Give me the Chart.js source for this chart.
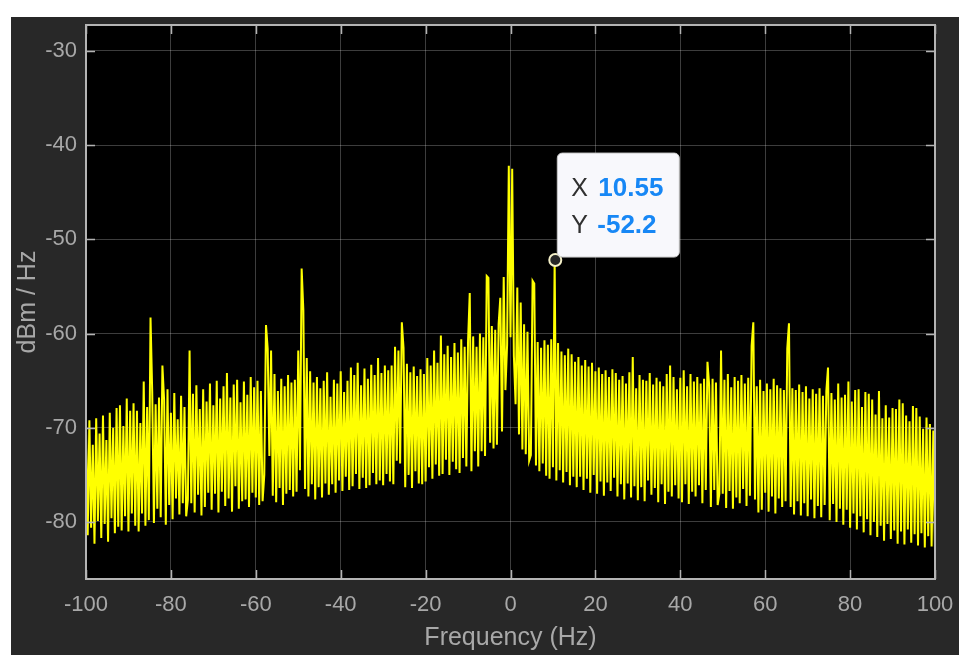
<!DOCTYPE html>
<html>
<head>
<meta charset="utf-8">
<title>Spectrum</title>
<script src="https://cdn.jsdelivr.net/npm/chart.js@4.4.1/dist/chart.umd.min.js"></script>
<style>
  html, body { margin: 0; padding: 0; background: #ffffff; overflow: hidden; }
  #wrap { position: relative; width: 959px; height: 655px; }
  #spectrum { display: block; }
</style>
</head>
<body>
<div id="wrap"><canvas id="spectrum" width="959" height="655"></canvas></div>
<script>
// spectrum bins: -100 Hz .. 100 Hz, 0.4 Hz apart
const freqStart = -100;
const freqStep = 0.4;

// power density (dBm/Hz), one row = 4 Hz
const power = [
  -70.1, -81.4, -69.2, -80.6, -71.8, -82.3, -69.0, -79.9, -70.6, -81.7,
  -68.7, -80.2, -71.3, -82.1, -68.4, -79.6, -70.0, -81.2, -67.9, -80.5,
  -67.6, -80.9, -69.8, -79.4, -66.9, -81.0, -68.2, -79.1, -67.4, -80.4,
  -68.2, -81.0, -69.5, -79.1, -65.1, -80.4, -67.8, -79.8, -58.3, -66.2,
  -80.1, -67.5, -78.6, -66.8, -79.5, -63.4, -67.0, -80.3, -65.9, -78.2,
  -68.4, -79.7, -66.3, -77.5, -69.1, -79.2, -66.6, -78.0, -67.8, -79.4,
  -77.6, -61.8, -78.0, -66.4, -79.0, -65.5, -77.1, -68.0, -79.3, -65.9,
  -78.4, -67.2, -76.9, -65.3, -78.7, -67.6, -77.0, -65.0, -79.0, -66.9,
  -76.8, -65.6, -78.3, -64.2, -77.5, -66.8, -78.9, -65.4, -76.2, -64.9,
  -78.6, -67.3, -77.8, -65.1, -77.6, -66.5, -78.4, -64.6, -76.9, -65.7,
  -77.4, -65.0, -78.2, -66.1, -77.8, -75.0, -59.1, -61.6, -73.0, -61.8,
  -77.2, -64.3, -77.9, -66.1, -76.4, -64.8, -78.2, -65.6, -77.0, -64.4,
  -76.6, -65.2, -77.3, -64.9, -76.8, -61.8, -74.5, -53.1, -57.5, -76.5,
  -62.6, -77.3, -64.0, -76.0, -65.2, -77.6, -64.6, -76.3, -65.8, -77.4,
  -65.0, -75.9, -64.1, -77.1, -66.7, -76.0, -64.9, -76.9, -65.3, -75.6,
  -64.0, -76.7, -66.2, -75.2, -65.0, -76.6, -63.6, -76.2, -64.4, -74.9,
  -63.1, -76.5, -65.5, -75.3, -63.7, -76.4, -64.8, -76.1, -63.3, -74.8,
  -64.4, -76.0, -62.6, -75.6, -64.2, -76.1, -63.4, -74.9, -63.9, -75.7,
  -63.4, -76.0, -61.4, -73.5, -61.8, -73.8, -58.8, -61.5, -76.3, -63.2,
  -75.0, -64.1, -76.4, -63.5, -74.6, -64.5, -75.9, -63.8, -76.0, -64.3,
  -75.7, -62.6, -74.2, -63.4, -75.4, -61.8, -73.9, -63.1, -75.1, -60.2,
  -74.9, -62.2, -73.4, -61.3, -75.0, -62.5, -73.6, -61.0, -74.4, -62.0,
  -74.8, -60.6, -73.2, -61.4, -74.1, -60.8, -55.7, -74.6, -60.3, -72.5,
  -61.4, -74.1, -60.0, -72.5, -60.4, -73.0, -53.9, -54.1, -71.6, -59.2,
  -72.2, -59.6, -71.8, -59.0, -56.2, -70.4, -54.0, -66.0, -61.2, -42.2,
  -60.4, -42.5, -62.4, -67.5, -55.1, -70.7, -56.7, -72.3, -59.0, -72.8,
  -59.8, -73.5, -72.9, -54.4, -54.7, -74.0, -60.9, -74.6, -61.5, -73.8,
  -60.7, -75.1, -61.2, -75.4, -60.6, -74.2, -52.2, -75.6, -61.0, -74.5,
  -61.9, -75.8, -62.3, -74.7, -61.6, -76.1, -62.2, -75.2, -63.0, -76.3,
  -62.5, -75.2, -63.4, -76.6, -62.8, -75.4, -63.5, -76.9, -63.1, -75.0,
  -64.0, -77.0, -63.6, -75.7, -64.3, -77.2, -63.9, -75.8, -64.6, -76.7,
  -63.8, -75.3, -64.2, -77.3, -64.9, -76.0, -64.5, -77.6, -65.3, -75.9,
  -64.1, -77.4, -62.5, -76.2, -65.8, -77.7, -64.4, -76.3, -64.9, -77.8,
  -65.0, -75.6, -64.2, -77.1, -65.4, -76.4, -64.7, -77.9, -65.1, -76.0,
  -65.6, -78.1, -64.3, -76.8, -63.4, -77.3, -64.6, -76.1, -65.9, -77.5,
  -64.7, -77.9, -63.9, -76.0, -65.6, -78.1, -64.3, -76.8, -65.1, -77.3,
  -64.6, -76.1, -65.3, -78.0, -64.8, -76.6, -63.0, -65.5, -78.4, -64.8,
  -76.6, -65.2, -78.2, -77.0, -61.8, -77.0, -64.9, -78.5, -64.3, -76.7,
  -65.7, -78.6, -64.6, -77.4, -65.0, -78.0, -64.4, -76.5, -65.3, -78.3,
  -64.7, -77.2, -61.3, -58.8, -77.6, -65.6, -79.0, -64.9, -78.7, -66.1,
  -76.9, -65.3, -78.9, -65.9, -77.3, -64.8, -79.1, -65.5, -77.5, -65.8,
  -78.4, -66.0, -77.8, -61.6, -58.9, -78.4, -65.8, -79.2, -66.0, -77.8,
  -65.4, -79.3, -66.2, -78.0, -65.6, -79.4, -66.9, -77.6, -65.9, -79.6,
  -66.4, -78.3, -65.8, -79.5, -66.6, -78.2, -66.1, -63.6, -79.8, -66.3,
  -78.1, -67.0, -80.0, -65.3, -78.6, -66.8, -80.3, -66.5, -78.7, -65.1,
  -80.6, -67.2, -79.1, -66.0, -80.8, -65.9, -79.4, -67.8, -81.1, -66.2,
  -79.7, -66.4, -81.4, -67.0, -80.0, -68.6, -81.6, -66.1, -80.4, -69.0,
  -82.0, -67.6, -80.2, -68.9, -81.8, -67.9, -80.9, -68.0, -82.3, -67.0,
  -81.0, -67.4, -82.4, -68.7, -80.8, -69.3, -82.2, -67.7, -81.3, -67.9,
  -82.5, -68.8, -81.2, -70.1, -82.7, -68.9, -81.5, -69.6, -82.6, -70.3,
  -82.8
];

// data tip shown on the plot
const tipX = 10.55;
const tipY = -52.2;

// axis ticks
const xTicks = [-100, -80, -60, -40, -20, 0, 20, 40, 60, 80, 100];
const yTicks = [-80, -70, -60, -50, -40, -30];

const freqs = power.map((_, i) => freqStart + i * freqStep);
const points = freqs.map((f, i) => ({ x: f, y: power[i] }));

const tickColor = '#a8a8a8';
const boxColor = '#b4b4b4';

// dark frame, black plot area
const backdrop = {
  id: 'backdrop',
  beforeDraw(chart) {
    const { ctx, chartArea: a } = chart;
    ctx.save();
    ctx.fillStyle = '#ffffff';
    ctx.fillRect(0, 0, chart.width, chart.height);
    ctx.fillStyle = '#282828';
    ctx.fillRect(11, 17, chart.width - 11, chart.height - 17);
    ctx.fillStyle = '#000000';
    ctx.fillRect(a.left, a.top, a.right - a.left, a.bottom - a.top);
    ctx.restore();
  }
};

// axes box with inward tick marks, and the data tip
const axesBox = {
  id: 'axesBox',
  afterDatasetsDraw(chart) {
    const { ctx, chartArea: a, scales } = chart;
    ctx.save();
    ctx.strokeStyle = boxColor;
    ctx.lineWidth = 1.5;
    ctx.beginPath();
    yTicks.forEach(v => {
      const y = Math.round(scales.y.getPixelForValue(v)) + 0.5;
      ctx.moveTo(a.left, y); ctx.lineTo(a.left + 9, y);
      ctx.moveTo(a.right, y); ctx.lineTo(a.right - 9, y);
    });
    xTicks.forEach(v => {
      const x = Math.round(scales.x.getPixelForValue(v)) + 0.5;
      ctx.moveTo(x, a.bottom); ctx.lineTo(x, a.bottom - 9);
      ctx.moveTo(x, a.top); ctx.lineTo(x, a.top + 9);
    });
    ctx.stroke();
    ctx.lineWidth = 2;
    ctx.strokeRect(a.left, a.top, a.right - a.left, a.bottom - a.top);

    // data tip box
    const px = scales.x.getPixelForValue(tipX);
    const py = scales.y.getPixelForValue(tipY);
    const bx = px + 2, by = py - 107, bw = 122, bh = 104;
    ctx.beginPath();
    ctx.roundRect(bx, by, bw, bh, 5);
    ctx.fillStyle = '#f8f8fc';
    ctx.fill();
    ctx.lineWidth = 1;
    ctx.strokeStyle = '#c8c8c8';
    ctx.stroke();
    ctx.font = '25px "Liberation Sans", Arial, sans-serif';
    ctx.textBaseline = 'middle';
    ctx.fillStyle = '#303030';
    ctx.fillText('X', bx + 14, by + 36);
    ctx.fillText('Y', bx + 14, by + 73);
    ctx.font = 'bold 26px "Liberation Sans", Arial, sans-serif';
    ctx.fillStyle = '#1787f5';
    ctx.fillText(String(tipX), bx + 41, by + 36);
    ctx.fillText(String(tipY), bx + 40, by + 73);
    ctx.restore();
  }
};

new Chart(document.getElementById('spectrum'), {
  type: 'line',
  data: {
    datasets: [
      {
        data: points,
        borderColor: '#ffff00',
        borderWidth: 2,
        pointRadius: 0,
        tension: 0,
        order: 2
      },
      {
        data: [{ x: tipX, y: tipY }],
        showLine: false,
        pointRadius: 6,
        pointBackgroundColor: '#262626',
        pointBorderColor: '#f4f0c8',
        pointBorderWidth: 2,
        clip: false,
        order: 1
      }
    ]
  },
  options: {
    responsive: false,
    animation: false,
    events: [],
    layout: { padding: { top: 25, right: 24, left: 0, bottom: 0 } },
    plugins: {
      legend: { display: false },
      tooltip: { enabled: false }
    },
    scales: {
      x: {
        type: 'linear',
        min: -100,
        max: 100,
        afterBuildTicks: s => { s.ticks = xTicks.map(v => ({ value: v })); },
        afterFit: s => { s.height = 76; s.paddingLeft = 0; s.paddingRight = 0; },
        grid: { color: 'rgba(255,255,255,0.24)', drawTicks: false },
        border: { display: false },
        ticks: {
          color: tickColor,
          padding: 13,
          maxRotation: 0,
          font: { family: '"Liberation Sans", Arial, sans-serif', size: 22 }
        },
        title: {
          display: true,
          text: 'Frequency (Hz)',
          color: tickColor,
          padding: { bottom: 2 },
          font: { family: '"Liberation Sans", Arial, sans-serif', size: 25 }
        }
      },
      y: {
        type: 'linear',
        min: -86.05,
        max: -27.25,
        afterBuildTicks: s => { s.ticks = yTicks.map(v => ({ value: v })); },
        afterFit: s => { s.width = 86; s.paddingTop = 0; s.paddingBottom = 0; },
        grid: { color: 'rgba(255,255,255,0.24)', drawTicks: false },
        border: { display: false },
        ticks: {
          color: tickColor,
          padding: 9,
          font: { family: '"Liberation Sans", Arial, sans-serif', size: 22 }
        },
        title: {
          display: true,
          text: 'dBm / Hz',
          color: tickColor,
          padding: { top: 13 },
          font: { family: '"Liberation Sans", Arial, sans-serif', size: 25 }
        }
      }
    }
  },
  plugins: [backdrop, axesBox]
});
</script>
</body>
</html>
